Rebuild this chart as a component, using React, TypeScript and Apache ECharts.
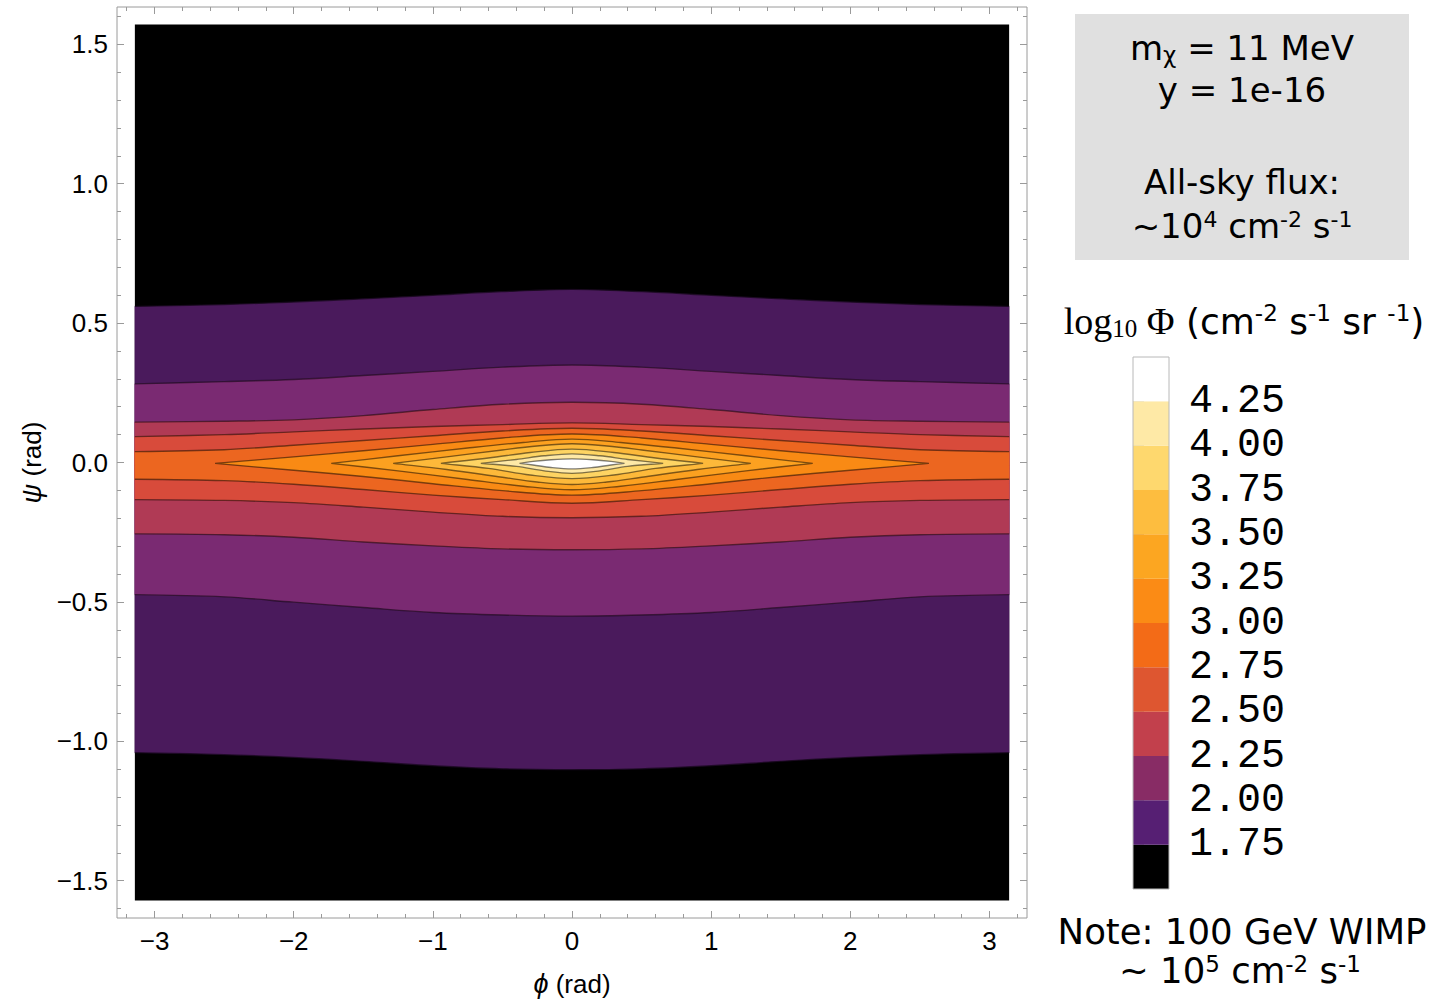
import { useEffect, useRef } from 'react';
import * as echarts from 'echarts';

// ---- plot domain ----
const phiEdge = [-3.1416, 3.1416];
const psiEdge = [-1.5708, 1.5708];

// ---- full-width contour bands (top / bottom boundary of region above level) ----
const phiBand = [-3.1416, -2.5, -2, -1.5, -1, -0.5, 0, 0.5, 1, 1.5, 2, 2.5, 3.1416];
const top175 = [0.560, 0.567, 0.576, 0.587, 0.600, 0.613, 0.621, 0.613, 0.600, 0.587, 0.576, 0.567, 0.560];
const bot175 = [-1.041, -1.048, -1.058, -1.072, -1.088, -1.099, -1.102, -1.099, -1.088, -1.072, -1.058, -1.048, -1.041];
const top200 = [0.282, 0.290, 0.298, 0.312, 0.327, 0.342, 0.350, 0.342, 0.327, 0.312, 0.298, 0.290, 0.282];
const bot200 = [-0.474, -0.482, -0.501, -0.520, -0.538, -0.547, -0.551, -0.547, -0.538, -0.520, -0.501, -0.482, -0.474];
const top225 = [0.145, 0.148, 0.153, 0.168, 0.190, 0.209, 0.216, 0.209, 0.190, 0.168, 0.153, 0.148, 0.145];
const bot225 = [-0.256, -0.259, -0.268, -0.285, -0.299, -0.310, -0.313, -0.310, -0.299, -0.285, -0.268, -0.259, -0.256];
const top250 = [0.093, 0.100, 0.110, 0.120, 0.129, 0.136, 0.142, 0.136, 0.129, 0.120, 0.110, 0.100, 0.093];
const bot250 = [-0.133, -0.136, -0.144, -0.160, -0.178, -0.193, -0.198, -0.193, -0.178, -0.160, -0.144, -0.136, -0.133];
const top275 = [0.039, 0.046, 0.062, 0.079, 0.096, 0.113, 0.123, 0.113, 0.096, 0.079, 0.062, 0.046, 0.039];
const bot275 = [-0.060, -0.065, -0.078, -0.097, -0.117, -0.133, -0.146, -0.133, -0.117, -0.097, -0.078, -0.065, -0.060];

// ---- closed contours (tip to tip) ----
const phi300 = [-2.565, -2, -1.5, -1, -0.5, 0, 0.5, 1, 1.5, 2, 2.565];
const top300 = [-0.003, 0.020, 0.042, 0.065, 0.088, 0.102, 0.088, 0.065, 0.042, 0.020, -0.003];
const bot300 = [-0.003, -0.028, -0.050, -0.076, -0.101, -0.117, -0.101, -0.076, -0.050, -0.028, -0.003];
const phi325 = [-1.73, -1.25, -0.75, -0.35, 0, 0.35, 0.75, 1.25, 1.73];
const top325 = [-0.003, 0.024, 0.052, 0.072, 0.084, 0.072, 0.052, 0.024, -0.003];
const bot325 = [-0.003, -0.030, -0.061, -0.085, -0.098, -0.085, -0.061, -0.030, -0.003];
const phi350 = [-1.285, -0.9, -0.5, -0.25, 0, 0.25, 0.5, 0.9, 1.285];
const top350 = [-0.003, 0.020, 0.045, 0.059, 0.067, 0.059, 0.045, 0.020, -0.003];
const bot350 = [-0.003, -0.025, -0.053, -0.070, -0.079, -0.070, -0.053, -0.025, -0.003];
const phi375 = [-0.942, -0.6, -0.3, 0, 0.3, 0.6, 0.942];
const top375 = [-0.003, 0.016, 0.036, 0.048, 0.036, 0.016, -0.003];
const bot375 = [-0.003, -0.021, -0.045, -0.058, -0.045, -0.021, -0.003];
const phi400 = [-0.655, -0.4, -0.2, 0, 0.2, 0.4, 0.655];
const top400 = [-0.003, 0.011, 0.024, 0.031, 0.024, 0.011, -0.003];
const bot400 = [-0.003, -0.014, -0.030, -0.039, -0.030, -0.014, -0.003];
const phi425 = [-0.377, -0.28, -0.15, 0, 0.15, 0.28, 0.377];
const top425 = [-0.003, 0.004, 0.010, 0.013, 0.010, 0.004, -0.003];
const bot425 = [-0.003, -0.009, -0.018, -0.023, -0.018, -0.009, -0.003];

// ---- colours ----
const plotColors = ['#000000', '#4a1a5c', '#7a2a72', '#b03a55', '#d84b3b', '#ec6620', '#f98a14', '#fca120', '#fdb93a', '#fed463', '#fee9a6', '#ffffff'];
const barLevels = [1.5, 1.75, 2.0, 2.25, 2.5, 2.75, 3.0, 3.25, 3.5, 3.75, 4.0, 4.25, 4.5];
const barColors = ['#000000', '#561f73', '#882c65', '#c2404c', '#de5630', '#f36b17', '#fb8b15', '#fca621', '#fdbd3f', '#fed86e', '#fee9a6', '#ffffff'];
const barTicks = [1.75, 2.0, 2.25, 2.5, 2.75, 3.0, 3.25, 3.5, 3.75, 4.0, 4.25];

// ---- ticks ----
const xMajor = [-3, -2, -1, 0, 1, 2, 3];
const yMajor = [-1.5, -1, -0.5, 0, 0.5, 1, 1.5];
const xMinor: number[] = [];
for (let k = -16; k <= 16; k++) if (k % 5 !== 0) xMinor.push(k / 5);
const yMinor: number[] = [];
for (let k = -16; k <= 16; k++) if (k % 5 !== 0) yMinor.push(k / 10);

type Region = { kind: 'rect' | 'band' | 'closed'; phi: number[]; top: number[]; bot: number[]; color: string };
const regions: Region[] = [
  { kind: 'rect', phi: phiEdge, top: [psiEdge[1], psiEdge[1]], bot: [psiEdge[0], psiEdge[0]], color: plotColors[0] },
  { kind: 'band', phi: phiBand, top: top175, bot: bot175, color: plotColors[1] },
  { kind: 'band', phi: phiBand, top: top200, bot: bot200, color: plotColors[2] },
  { kind: 'band', phi: phiBand, top: top225, bot: bot225, color: plotColors[3] },
  { kind: 'band', phi: phiBand, top: top250, bot: bot250, color: plotColors[4] },
  { kind: 'band', phi: phiBand, top: top275, bot: bot275, color: plotColors[5] },
  { kind: 'closed', phi: phi300, top: top300, bot: bot300, color: plotColors[6] },
  { kind: 'closed', phi: phi325, top: top325, bot: bot325, color: plotColors[7] },
  { kind: 'closed', phi: phi350, top: top350, bot: bot350, color: plotColors[8] },
  { kind: 'closed', phi: phi375, top: top375, bot: bot375, color: plotColors[9] },
  { kind: 'closed', phi: phi400, top: top400, bot: bot400, color: plotColors[10] },
  { kind: 'closed', phi: phi425, top: top425, bot: bot425, color: plotColors[11] },
];

const LINE = 'rgba(0,0,0,0.5)';
const LW = 1.4;
const SMOOTH = 0.35;
const FRAME = '#9a9a9a';
const SANS = 'DejaVu Sans';

function renderContour(params: any, api: any) {
  const r = regions[params.dataIndex];
  const topPts = r.phi.map((p, i) => api.coord([p, r.top[i]]));
  const botPts = r.phi.map((p, i) => api.coord([p, r.bot[i]]));
  const n = topPts.length;
  if (r.kind === 'rect') {
    const a = topPts[0];
    const b = botPts[1];
    return { type: 'rect', shape: { x: a[0], y: a[1], width: b[0] - a[0], height: b[1] - a[1] }, style: { fill: r.color } };
  }
  if (r.kind === 'band') {
    // corners doubled so that smoothing keeps them sharp
    const rb = botPts.slice().reverse();
    const poly = [topPts[0], ...topPts, topPts[n - 1], rb[0], ...rb, rb[n - 1]];
    return {
      type: 'group',
      children: [
        { type: 'polygon', shape: { points: poly, smooth: SMOOTH }, style: { fill: r.color, stroke: r.color, lineWidth: 0.5 } },
        { type: 'polyline', shape: { points: topPts, smooth: SMOOTH }, style: { fill: 'none', stroke: LINE, lineWidth: LW } },
        { type: 'polyline', shape: { points: botPts, smooth: SMOOTH }, style: { fill: 'none', stroke: LINE, lineWidth: LW } },
      ],
    };
  }
  // closed contour: tips doubled so they stay pointed
  const inner = botPts.slice(1, -1).reverse();
  const poly = [topPts[0], ...topPts, topPts[n - 1], ...inner];
  return { type: 'polygon', shape: { points: poly, smooth: SMOOTH }, style: { fill: r.color, stroke: LINE, lineWidth: LW, lineJoin: 'miter' } };
}

function renderBar(params: any, api: any) {
  const i = params.dataIndex;
  const a = api.coord([0, barLevels[i + 1]]);
  const b = api.coord([1, barLevels[i]]);
  const children: any[] = [
    { type: 'rect', shape: { x: a[0], y: a[1], width: b[0] - a[0], height: b[1] - a[1] }, style: { fill: barColors[i] } },
  ];
  if (i === barColors.length - 1) {
    const t = api.coord([0, barLevels[barLevels.length - 1]]);
    const s = api.coord([1, barLevels[0]]);
    children.push({ type: 'rect', shape: { x: t[0], y: t[1], width: s[0] - t[0], height: s[1] - t[1] }, style: { fill: 'none', stroke: '#b8b8b8', lineWidth: 1 } });
  }
  return { type: 'group', children };
}

const minus = (s: string) => s.replace('-', '\u2212');

function frameAxis(position: string, ticks: number[], len: number, extra: any = {}) {
  return {
    type: 'value',
    gridIndex: 0,
    position,
    axisLine: { show: false, onZero: false },
    axisTick: { show: true, inside: true, length: len, customValues: ticks, lineStyle: { color: FRAME, width: 1 } },
    axisLabel: { show: false },
    splitLine: { show: false },
    ...extra,
  };
}

export default function App() {
  const ref = useRef<HTMLDivElement>(null);
  useEffect(() => {
    if (!ref.current) return;
    const chart = echarts.init(ref.current, undefined, { renderer: 'svg' });
    const xr = { min: -3.27, max: 3.27 };
    const yr = { min: -1.634, max: 1.634 };
    const labelStyle = { color: '#000', fontSize: 26, fontFamily: 'Liberation Sans' };
    const sup = { fontSize: 22, fontFamily: SANS, lineHeight: 31, verticalAlign: 'top', fill: '#000' };
    const main = { fontSize: 34, fontFamily: SANS, lineHeight: 36, fill: '#000' };
    const note = { fontSize: 35.5, fontFamily: SANS, lineHeight: 36, fill: '#000' };
    const noteSup = { fontSize: 23, fontFamily: SANS, lineHeight: 31, verticalAlign: 'top', fill: '#000' };
    const tMain = { fontSize: 36, fontFamily: SANS, lineHeight: 40, fill: '#000' };
    const tSup = { fontSize: 23, fontFamily: SANS, lineHeight: 35, verticalAlign: 'top', fill: '#000' };
    const serif = { fontSize: 38, fontFamily: 'Liberation Serif', lineHeight: 40, fill: '#000' };
    const serifSub = { fontSize: 25, fontFamily: 'Liberation Serif', lineHeight: 20, verticalAlign: 'bottom', fill: '#000' };
    const text = (x: number, y: number, t: string, rich: any) => ({
      type: 'text',
      x,
      y,
      silent: true,
      style: { text: t, align: 'center', verticalAlign: 'middle', rich, fill: '#000', fontSize: 34, fontFamily: SANS },
    });
    const option: any = {
      animation: false,
      backgroundColor: '#ffffff',
      grid: [
        { left: 117, top: 7, width: 910, height: 911, show: true, borderColor: FRAME, borderWidth: 1, backgroundColor: 'transparent', containLabel: false, outerBoundsMode: 'none' },
        { left: 1133, top: 357, width: 36, height: 532, show: false, containLabel: false, outerBoundsMode: 'none' },
      ],
      xAxis: [
        frameAxis('bottom', xMajor, 7, {
          ...xr,
          axisLabel: { show: true, customValues: xMajor, formatter: (v: number) => minus(v.toFixed(0)), margin: 10, ...labelStyle },
          name: '{i|\u03d5} (rad)',
          nameLocation: 'middle',
          nameGap: 52,
          nameTextStyle: { ...labelStyle, rich: { i: { fontStyle: 'italic', fontSize: 27, fontFamily: 'Liberation Sans' } } },
        }),
        frameAxis('bottom', xMinor, 4, xr),
        frameAxis('top', xMajor, 7, xr),
        frameAxis('top', xMinor, 4, xr),
        { type: 'value', gridIndex: 1, min: 0, max: 1, show: false },
      ],
      yAxis: [
        frameAxis('left', yMajor, 7, {
          ...yr,
          axisLabel: { show: true, customValues: yMajor, formatter: (v: number) => minus(v.toFixed(1)), margin: 9, ...labelStyle },
          name: '{i|\u03c8} (rad)',
          nameLocation: 'middle',
          nameGap: 72,
          nameRotate: 90,
          nameTextStyle: { ...labelStyle, rich: { i: { fontStyle: 'italic', fontSize: 27, fontFamily: 'Liberation Sans' } } },
        }),
        frameAxis('left', yMinor, 4, yr),
        frameAxis('right', yMajor, 7, yr),
        frameAxis('right', yMinor, 4, yr),
        {
          type: 'value',
          gridIndex: 1,
          min: 1.5,
          max: 4.5,
          position: 'right',
          axisLine: { show: false },
          axisTick: { show: true, length: 11, customValues: barTicks, lineStyle: { color: '#c4c4c4' } },
          axisLabel: { show: true, customValues: barTicks, formatter: (v: number) => v.toFixed(2), margin: 20, color: '#000', fontSize: 40, fontFamily: 'Liberation Mono' },
          splitLine: { show: false },
        },
      ],
      series: [
        {
          type: 'custom',
          xAxisIndex: 0,
          yAxisIndex: 0,
          silent: true,
          renderItem: renderContour,
          data: regions.map(() => [0, 0]),
        },
        {
          type: 'custom',
          xAxisIndex: 4,
          yAxisIndex: 4,
          silent: true,
          renderItem: renderBar,
          data: barColors.map(() => [0, 2]),
        },
      ],
      graphic: [
        { type: 'rect', silent: true, shape: { x: 1075, y: 14, width: 334, height: 246 }, style: { fill: '#e0e0e0' } },
        text(1242, 48, '{a|m}{s|\u03c7}{a| = 11 MeV}', { a: main, s: { fontSize: 23, fontFamily: SANS, lineHeight: 16, verticalAlign: 'bottom', fill: '#000' } }),
        text(1242, 90, '{a|y = 1e-16}', { a: main }),
        text(1242, 182, '{a|All-sky flux:}', { a: main }),
        text(1242, 226, '{a|~10}{p|4}{a| cm}{p|-2}{a| s}{p|-1}', { a: main, p: sup }),
        text(1244, 321, '{g|log}{b|10}{g| \u03a6}{a| (cm}{p|-2}{a| s}{p|-1}{a| sr }{p|-1}{a|)}', { a: tMain, p: tSup, g: serif, b: serifSub }),
        text(1242, 931, '{a|Note: 100 GeV WIMP}', { a: note }),
        text(1240, 970, '{a|~ 10}{p|5}{a| cm}{p|-2}{a| s}{p|-1}', { a: note, p: noteSup }),
      ],
    };
    chart.setOption(option);
    return () => chart.dispose();
  }, []);
  return <div ref={ref} style={{ position: 'absolute', left: 0, top: 0, width: 1442, height: 999 }} />;
}
